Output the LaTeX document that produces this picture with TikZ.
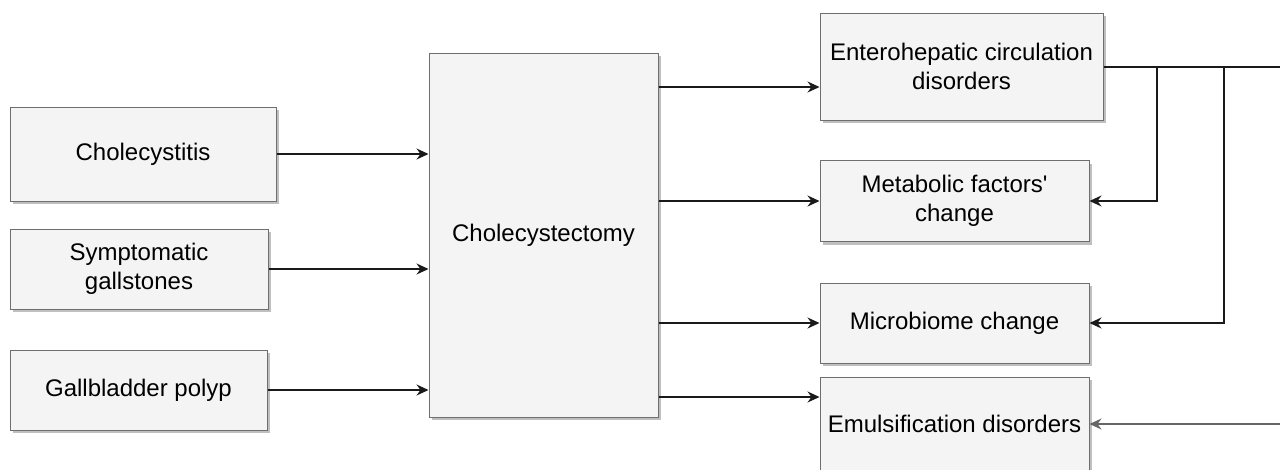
\documentclass[tikz,border=0pt]{standalone}
\usepackage{fontspec}
\setmainfont{Liberation Sans}
\usetikzlibrary{arrows.meta,shadows}
\definecolor{boxfill}{HTML}{F4F4F4}
\definecolor{boxline}{HTML}{6E6E6E}
\definecolor{linecol}{HTML}{1A1A1A}
\begin{document}
\begin{tikzpicture}[x=1pt,y=1pt,
  box/.style={draw=boxline,line width=1pt,fill=boxfill,inner sep=0pt,align=center,
    font=\fontsize{24}{29}\selectfont,
    drop shadow={shadow xshift=3pt,shadow yshift=-3pt,fill=black,opacity=0.25}},
  conn/.style={draw=linecol,line width=1.1pt},
  thick conn/.style={draw=linecol,line width=1.6pt},
  tip/.style={-{Stealth[length=12pt,width=11pt,inset=4pt]}}
]
\useasboundingbox (0,0) rectangle (1280,-469);
% left column
\node[box,minimum width=266pt,minimum height=94pt] (chole) at (143,-154) {Cholecystitis};
\node[box,minimum width=258pt,minimum height=80pt] (sympt) at (139,-269) {Symptomatic\\gallstones};
\node[box,minimum width=257pt,minimum height=80pt] (polyp) at (138.5,-390) {Gallbladder polyp};
% centre
\node[box,minimum width=229pt,minimum height=364pt] (ectomy) at (543.5,-235) {Cholecystectomy};
% right column
\node[box,minimum width=283pt,minimum height=107pt] (entero) at (961.5,-66.5) {Enterohepatic circulation\\disorders};
\node[box,minimum width=269pt,minimum height=81pt] (metab) at (954.5,-201) {Metabolic factors\textquotesingle\\change};
\node[box,minimum width=269pt,minimum height=80pt] (micro) at (954.5,-323) {Microbiome change};
\node[box,minimum width=269pt,minimum height=94pt] (emul) at (954.5,-424) {Emulsification disorders};
% inputs
\draw[conn,tip] (chole.east) -- (ectomy.west |- chole.east);
\draw[conn,tip] (sympt.east) -- (ectomy.west |- sympt.east);
\draw[conn,tip] (polyp.east) -- (ectomy.west |- polyp.east);
% outputs
\coordinate (o1) at (0,-87);
\coordinate (o4) at (0,-397);
\draw[conn,tip] (ectomy.east |- o1) -- (entero.west |- o1);
\draw[thick conn,tip] (ectomy.east |- metab.west) -- (metab.west);
\draw[thick conn,tip] (ectomy.east |- micro.west) -- (micro.west);
\draw[conn,tip] (ectomy.east |- o4) -- (emul.west |- o4);
% feedback lines on the right
\coordinate (r1) at (1280,-67);
\coordinate (b1) at (1157,-67);
\coordinate (b2) at (1224,-67);
\coordinate (r2) at (1280,-424);
\draw[conn] (entero.east |- r1) -- (r1);
\draw[thick conn,tip] (b1) |- (metab.east);
\draw[thick conn,tip] (b2) |- (micro.east);
\draw[conn,draw=black!60,tip] (r2) -- (emul.east);
\end{tikzpicture}
\end{document}
